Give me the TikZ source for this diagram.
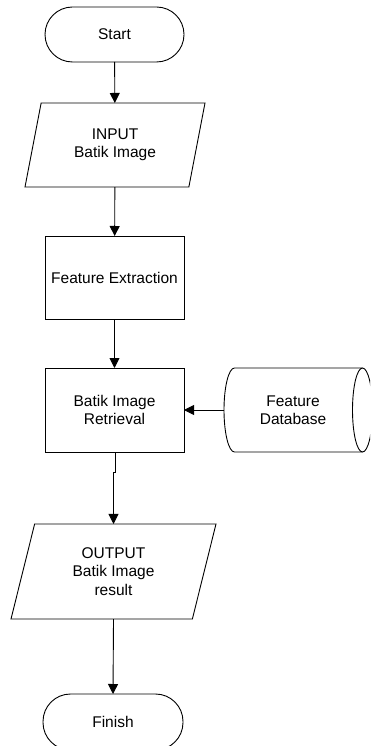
\documentclass[tikz,border=0pt]{standalone}
\usepackage{fontspec}
\setmainfont{Liberation Sans}
\usetikzlibrary{shapes.geometric,arrows.meta}
\begin{document}
\begin{tikzpicture}[x=1pt,y=-1pt,
  every node/.style={inner sep=0pt,outer sep=0pt,align=center,
    font=\fontsize{15.5}{18.4}\selectfont},
  shapeline/.style={draw=black,line width=0.9pt},
  terminal/.style={shapeline,rectangle,rounded corners=27.5pt,minimum width=139pt,minimum height=55pt},
  process/.style={shapeline,rectangle,minimum width=139pt},
  io/.style={shapeline,trapezium,trapezium stretches body=true},
  dbarea/.style={rectangle,minimum width=138pt,minimum height=84pt},
  arrow/.style={draw=black,line width=0.9pt,-{Triangle[length=10pt,width=10pt]}}
]
\clip (0,0) rectangle (370,746);
\node[terminal] (start) at (114.5,34.5) {Start};
\node[io,trapezium left angle=63.43,trapezium right angle=116.57,minimum width=180pt,minimum height=84pt] (input) at (115,145) {INPUT\\Batik Image};
\node[process,minimum height=83pt] (fe) at (114.5,277.5) {Feature Extraction};
\node[process,minimum height=84pt] (ret) at (114.5,410) {Batik Image\\Retrieval};
\node[dbarea] (fdb) at (293,410) {Feature\\Database};
% cylinder outline of the database
\draw[shapeline] (fdb.east) ++(0.5,0) ellipse [x radius=10pt, y radius=42pt];
\draw[shapeline] (fdb.north east) ++(0.5,0) -- ++(-128,0)
  arc[start angle=90, end angle=270, x radius=10.5pt, y radius=42pt] -- ++(128,0);
\node[io,trapezium left angle=63.68,trapezium right angle=116.32,minimum width=205pt,minimum height=95pt] (output) at (113.5,571.5) {OUTPUT\\Batik Image\\result};
\node[terminal,minimum width=140pt,minimum height=56pt] (finish) at (113,722) {Finish};
\coordinate (jog) at (115,472);
\draw[arrow] (start) -- (input);
\draw[arrow] (input) -- (fe);
\draw[arrow] (fe) -- (ret);
\draw[arrow] (fdb.west) -- (ret.east);
\draw[arrow] (ret.south -| jog) -- (jog) -| (output.north);
\draw[arrow] (output.south) -- (finish.north);
\end{tikzpicture}
\end{document}
